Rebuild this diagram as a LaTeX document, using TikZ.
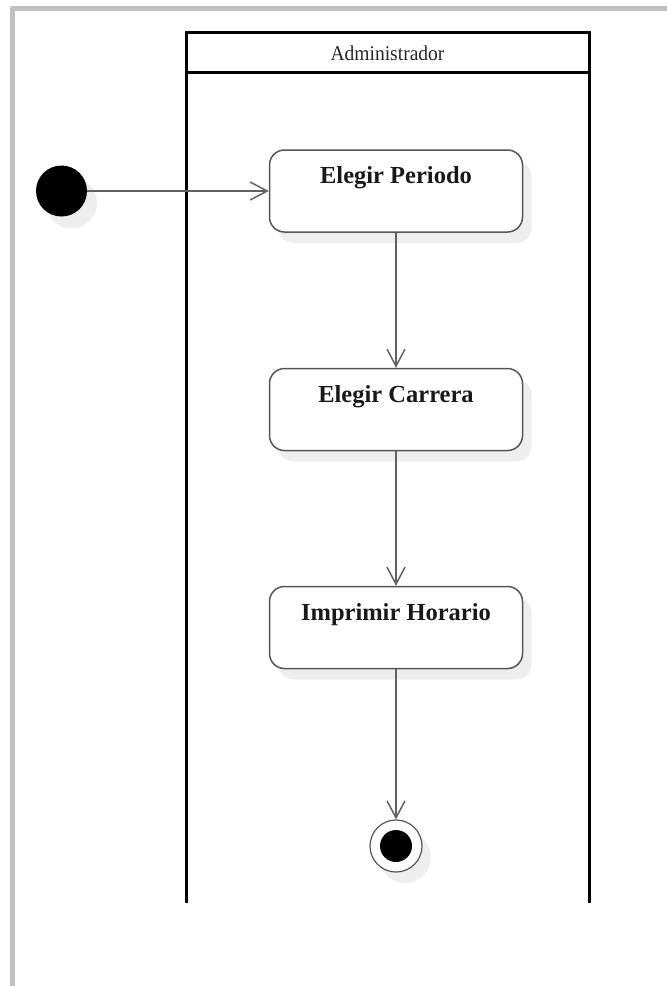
\documentclass[tikz,border=0pt]{standalone}
\usepackage{fontspec}
\setmainfont{Liberation Serif}
\usetikzlibrary{arrows.meta,positioning,shadows}

\definecolor{marco}{HTML}{C0C0C0}
\definecolor{borde}{HTML}{555555}
\definecolor{sombra}{HTML}{EEEEEE}

\tikzset{
  actividad/.style={draw=borde, line width=1.5pt, fill=white, rounded corners=15pt,
    minimum width=253pt, minimum height=82pt, inner sep=0pt,
    drop shadow={fill=sombra, shadow xshift=9pt, shadow yshift=-11pt, opacity=1}},
  etiqueta/.style={font=\bfseries\fontsize{24.5}{28}\selectfont, text=black!90, anchor=center, yshift=-28.5pt},
  flujo/.style={draw=black!62, line width=2pt, -{Straight Barb[length=17pt,width=18pt,line width=1.5pt]}},
  carril/.style={draw=black, line width=3pt}
}

\begin{document}
\begin{tikzpicture}[x=1pt,y=-1pt]
\useasboundingbox (0,0) rectangle (667,986);
% marco gris
\draw[marco, line width=5pt, line join=round] (12,986) -- (12,8) -- (667,8);

% carril
\draw[carril] (186.5,903) -- (186.5,32) -- (589,32) -- (589,903);
\draw[carril] (186.5,72.5) -- (589,72.5);
\node[font=\fontsize{21}{24}\selectfont, text=black!85, xscale=0.93] (admin) at (387.5,53.5) {Administrador};

% actividades
\node[circle, fill=black, minimum size=51pt, inner sep=0pt,
  drop shadow={fill=sombra, shadow xshift=10pt, shadow yshift=-12pt, opacity=1}] (inicio) at (61.5,191) {};
\node[actividad, label={[etiqueta]north:Elegir Periodo}] (periodo) at (396,191) {};
\node[actividad, label={[etiqueta]north:Elegir Carrera}] (carrera) at (396,409.5) {};
\node[actividad, label={[etiqueta]north:Imprimir Horario}] (horario) at (396,627.5) {};
\node[circle, draw=borde, line width=1.2pt, fill=white, minimum size=52pt, inner sep=0pt,
  drop shadow={fill=sombra, shadow xshift=9pt, shadow yshift=-11pt, opacity=1}] (fin) at (396,846) {};
\node[circle, fill=black, minimum size=32pt, inner sep=0pt] (finpunto) at (fin) {};

% flujos
\draw[flujo] (inicio) -- (periodo);
\draw[flujo] (periodo) -- (carrera);
\draw[flujo] (carrera) -- (horario);
\draw[flujo] (horario) -- (fin);
\end{tikzpicture}
\end{document}
